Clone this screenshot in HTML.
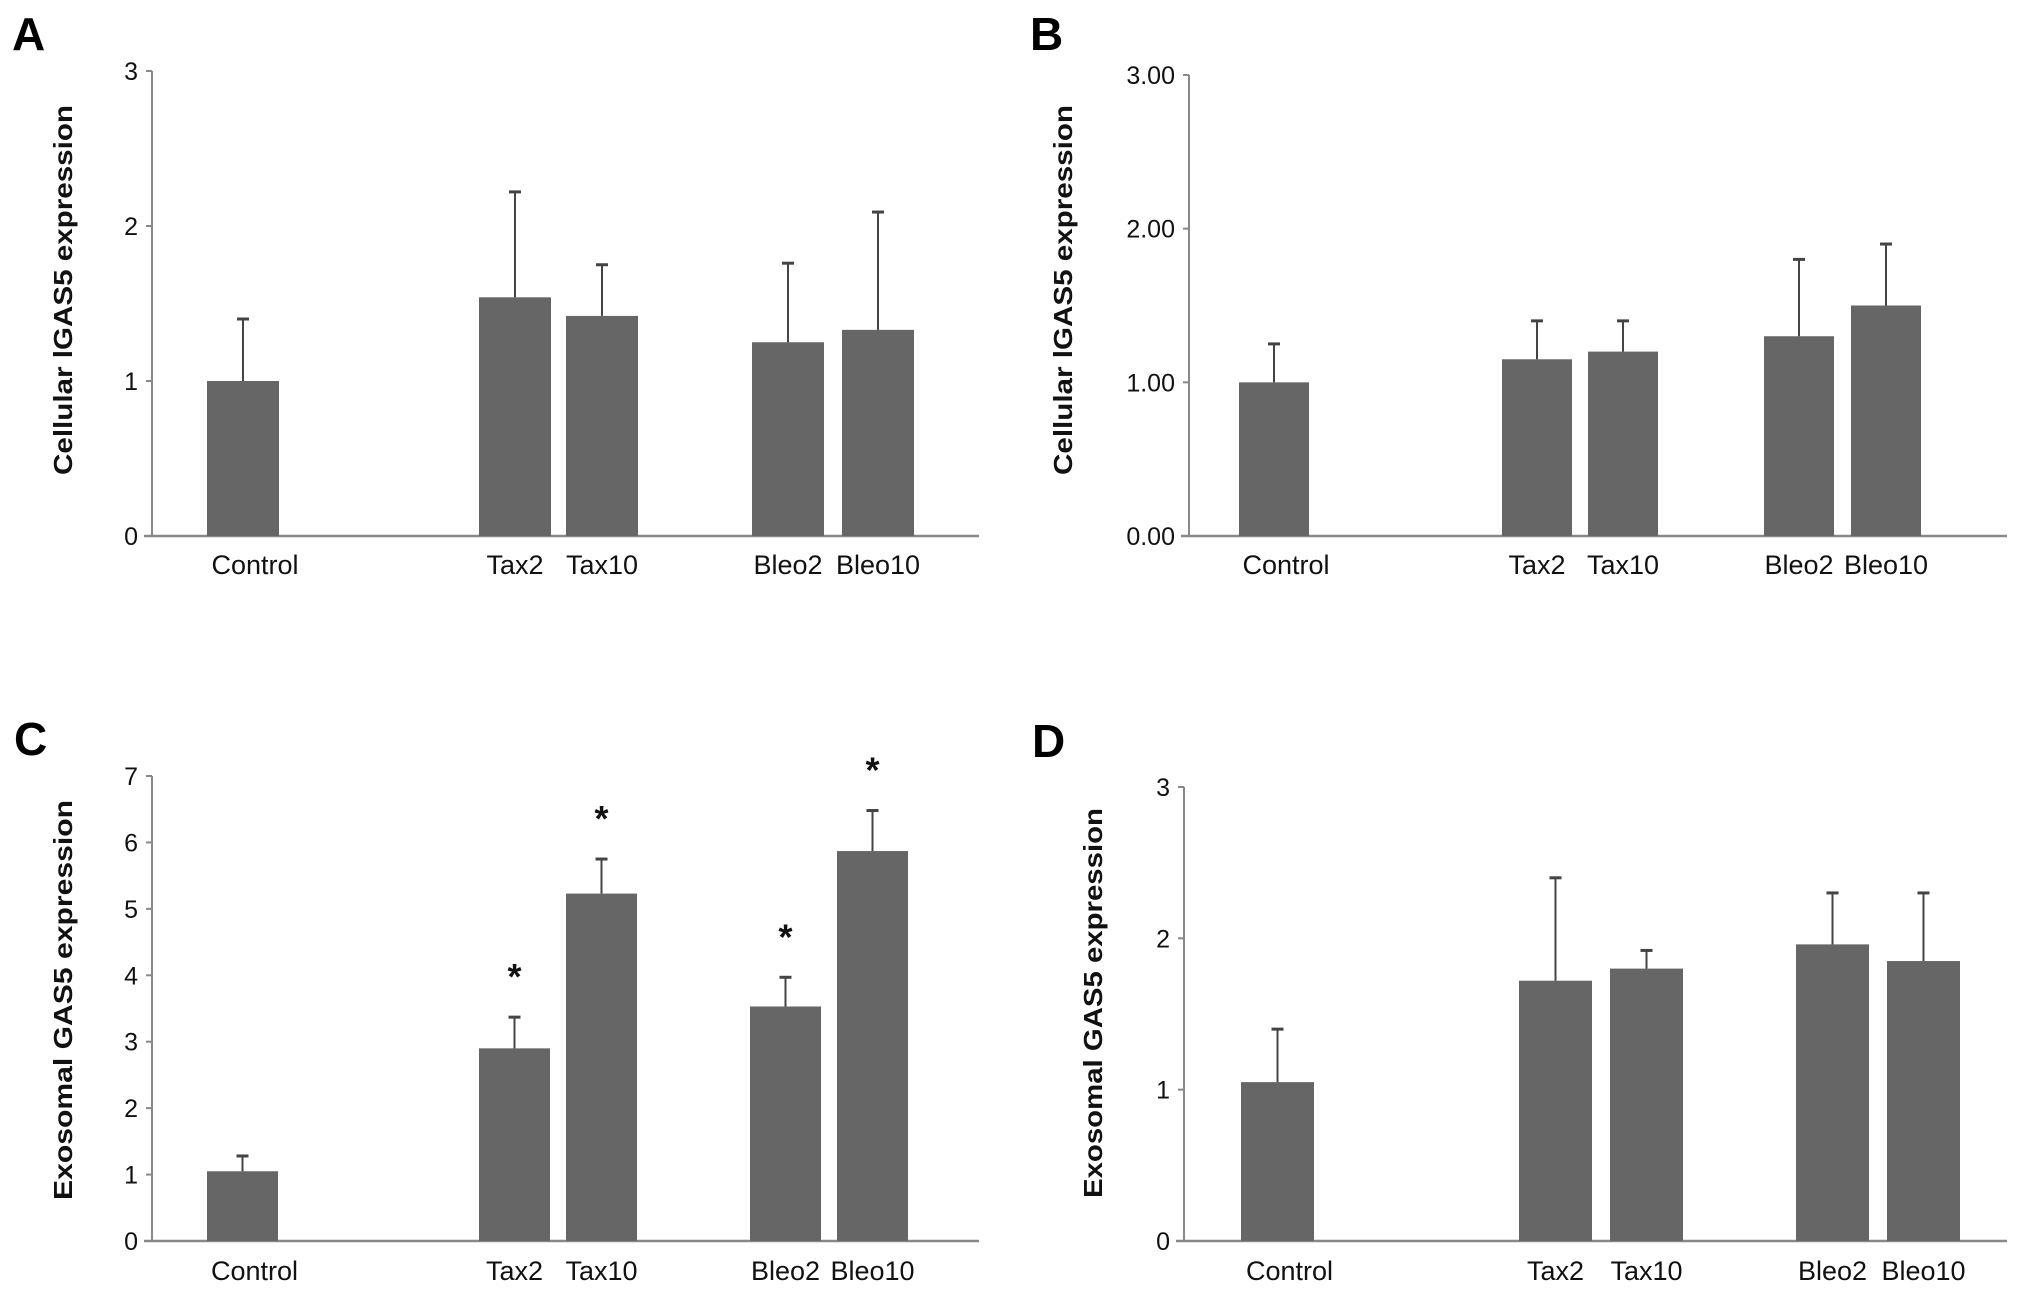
<!DOCTYPE html>
<html><head><meta charset="utf-8"><style>
html,body{margin:0;padding:0;background:#fff;}
svg{display:block;font-family:"Liberation Sans",sans-serif;}
</style></head><body>
<svg id="fig" width="2031" height="1298" viewBox="0 0 2031 1298"></svg>
<script>
const categories = ["Control","Tax2","Tax10","Bleo2","Bleo10"];
const valuesA = [1.0,1.54,1.42,1.25,1.33];
const errTopA = [1.40,2.22,1.75,1.76,2.09];
const ticksA = ["0","1","2","3"];
const valuesB = [1.0,1.15,1.2,1.3,1.5];
const errTopB = [1.25,1.40,1.40,1.80,1.90];
const ticksB = ["0.00","1.00","2.00","3.00"];
const valuesC = [1.05,2.9,5.23,3.53,5.87];
const errTopC = [1.28,3.37,5.75,3.97,6.48];
const sigC = [false,true,true,true,true];
const ticksC = ["0","1","2","3","4","5","6","7"];
const valuesD = [1.05,1.72,1.80,1.96,1.85];
const errTopD = [1.40,2.40,1.92,2.30,2.30];
const ticksD = ["0","1","2","3"];

const NS="http://www.w3.org/2000/svg";
const svg=document.getElementById('fig');
function mk(tag,attrs,parent){const e=document.createElementNS(NS,tag);for(const k in attrs)e.setAttribute(k,attrs[k]);(parent||svg).appendChild(e);return e;}

function panel(id,letter,lx,ly,ax,ax2,y0,yTop,ticks,vals,errs,sig,barX,barW,labY,title,tx,ty,tlen){
  const g=mk('g',{});
  
  
  const maxV=parseFloat(ticks[ticks.length-1]);
  const ys=v=>y0-(v/maxV)*(y0-yTop);
  const L=mk('text',{x:lx,y:ly,'font-size':46,'font-weight':'bold',fill:'#000'},g);L.textContent=letter;
  
  
  const ya=mk('line',{x1:ax,x2:ax,y1:yTop,y2:y0,stroke:'#888','stroke-width':2},g);
  
  
  const xa=mk('line',{x1:ax-8,x2:ax2,y1:y0,y2:y0,stroke:'#888','stroke-width':2.5},g);
  
  
  ticks.forEach(t=>{
    const y=ys(parseFloat(t));
    mk('line',{x1:ax-6,x2:ax,y1:y,y2:y,stroke:'#888','stroke-width':2},g);
    const tt=mk('text',{x:ax-14,y:y+9,'font-size':25,'text-anchor':'end',fill:'#111'},g);tt.textContent=t;
    
    
  });
  vals.forEach((v,i)=>{
    const x=barX[i],cx=x+barW/2;
    const r=mk('rect',{x:x,y:ys(v),width:barW,height:y0-ys(v),fill:'#666'},g);
    
    
    const e=mk('line',{x1:cx,x2:cx,y1:ys(v),y2:ys(errs[i]),stroke:'#444','stroke-width':2},g);
    
    
    mk('line',{x1:cx-6,x2:cx+6,y1:ys(errs[i]),y2:ys(errs[i]),stroke:'#444','stroke-width':3},g);
    if(sig&&sig[i]){const s=mk('text',{x:cx,y:ys(errs[i])-28,'font-size':36,'font-weight':'bold','text-anchor':'middle',fill:'#111'},g);s.textContent='*';
      
      }
  });
  const lab=[[barX[0]+barW/2,"Control"],[barX[1]+barW/2,"Tax2"],[barX[2]+barW/2,"Tax10"],[barX[3]+barW/2,"Bleo2"],[barX[4]+barW/2,"Bleo10"]];
  lab.forEach(([x,t],i)=>{
    const c=mk('text',{x:x+(i==0?12:0),y:labY,'font-size':27,'text-anchor':'middle',fill:'#111'},g);c.textContent=t;
    
    
  });
  const T=mk('text',{x:0,y:0,'font-size':26,'font-weight':'bold','text-anchor':'middle',fill:'#111',textLength:tlen,lengthAdjust:'spacingAndGlyphs',transform:`translate(${tx},${ty}) rotate(-90)`},g);
  T.textContent=title;
  
  
}
panel('a','A',12,50,152,979,536,71,ticksA,valuesA,errTopA,null,[207,479,566,752,842],72,574,'Cellular  lGAS5  expression',72,290,370);
panel('b','B',1030,50,1189,2007,536,75,ticksB,valuesB,errTopB,null,[1239,1502,1588,1764,1851],70,574,'Cellular  lGAS5  expression',1072,290,370);
panel('c','C',14,755,152,979,1241,776,ticksC,valuesC,errTopC,sigC,[207,479,566,750,837],71,1280,'Exosomal  GAS5  expression',72,1000,400);
panel('d','D',1032,757,1184,2007,1241,787,ticksD,valuesD,errTopD,null,[1241,1519,1610,1796,1887],73,1280,'Exosomal  GAS5  expression',1102,1003,390);
</script>
</body></html>
